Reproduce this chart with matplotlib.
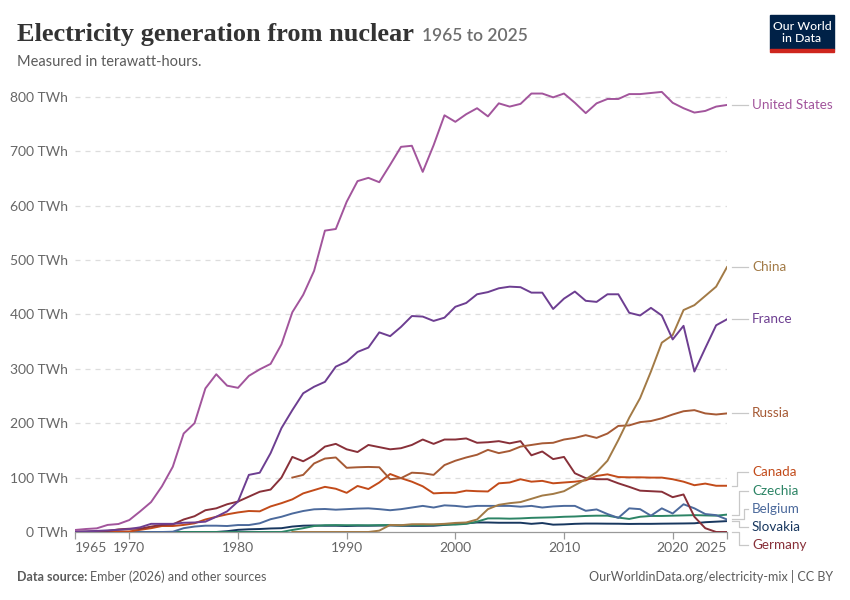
import numpy as np
import matplotlib
matplotlib.use("Agg")
import matplotlib.pyplot as plt
from matplotlib.patches import Rectangle

nan = np.nan
years = list(range(1965, 2026))

united_states = [3.7, 5.5, 6.7, 13, 14.7, 22, 38, 55, 84, 120,
                 181, 200, 264, 290, 269, 265, 287, 299, 309, 345,
                 404, 436, 480, 554, 557, 607, 645, 651, 643, 675,
                 708, 710, 662, 711, 766, 754, 768, 779, 764, 788,
                 782, 787, 806, 806, 799, 806, 789, 770, 788, 796,
                 796, 805, 805, 807, 809, 789, 779, 771, 774, 782, 785]
france = [1.0, 1.3, 2.0, 3.0, 4.0, 5.5, 8.6, 15, 15, 15,
          17, 17.5, 19, 28, 38, 56, 105, 109, 145, 191,
          224, 255, 267, 276, 304, 313, 331, 339, 367, 360,
          377, 397, 396, 388, 394, 414, 421, 437, 441, 448,
          451, 450, 440, 440, 410, 429, 442, 425, 423, 437,
          437, 403, 398, 412, 398, 354, 379, 295, 338, 380, 391]
china = [nan] * 20 + [0, 0, 0, 0, 0, 0, 0, 0, 2.5, 13,
                      12.5, 14.3, 14.4, 14.1, 15, 16.7, 17.5, 23, 42, 50,
                      53, 55, 61, 67, 70, 75, 86, 97, 110, 131,
                      169, 210, 246, 295, 348, 362, 408, 417, 434, 451, 487]
russia = [nan] * 20 + [100, 105, 126, 135, 137, 118, 119, 119.6, 119, 97,
                       99, 109, 108, 105, 123, 131, 137, 142, 151, 145,
                       149, 157, 160, 163, 164, 170, 173, 178, 173, 181,
                       195, 196, 202, 204, 209, 216, 222, 224, 218, 216, 218]
canada = [0, 0.1, 0.5, 1.0, 1.0, 1, 4, 7, 11, 11,
          13, 16, 23, 28, 32.5, 36, 38.6, 38, 47, 53,
          60, 71, 77, 83, 79.5, 72, 84.6, 79, 91, 106.6,
          99, 92.5, 84, 71, 72, 72, 76, 75, 74.5, 89.5,
          91, 97, 92.5, 94, 89.5, 91, 92.5, 95, 103, 106,
          101, 100.5, 100.5, 100, 100, 97, 92.5, 86, 89, 85, 85]
germany = [0.3, 0.5, 1.2, 1.8, 4.8, 6, 6, 10, 13, 14,
           23, 29, 40, 43.5, 51, 56, 65, 74, 78, 100,
           138, 130, 141, 157, 162, 152, 147, 160, 156, 152,
           154, 160, 170, 162, 170, 170, 172, 164, 165, 167,
           163, 167, 141, 148, 134, 138, 108, 99, 97, 97,
           89.5, 83, 76, 75, 74, 64, 69, 28, 7, 0, 0]
belgium = [0] * 9 + [0.5,
           7, 10, 11.6, 11.6, 11, 12.8, 12.8, 16, 23.5, 28,
           34, 38.6, 41.7, 42.3, 41, 42, 43, 43.5, 42, 40,
           42, 45, 48, 45, 49, 48, 46, 48, 48, 48,
           48, 46.5, 48, 45, 47, 48, 48, 39, 41.5, 33,
           26, 43.5, 42, 30, 43.5, 34, 51, 43.5, 33, 31, 23]
czechia = [0] * 20 + [3.7, 7, 11, 12.5, 12.7, 12.5, 12.5, 12.3, 12.6, 12.8,
                      12.2, 12.8, 12.5, 13.2, 13.4, 13.6, 15, 19, 25, 25,
                      24.5, 25, 26, 26.5, 27, 28, 28.5, 29.5, 30, 30,
                      26.5, 24, 28, 29.5, 29.5, 30, 30.5, 31, 30.5, 30, 32]
slovakia = [0] * 14 + [1.5, 4, 5, 5.5, 6.5, 7,
                       10, 11.6, 12, 11.5, 11.5, 11, 11.5, 11.5, 11.8, 12,
                       11.5, 11.3, 11.3, 11.5, 13, 15, 16, 17.5, 17.5, 17,
                       17, 17, 15, 16.5, 13.5, 14, 15, 15.5, 15.5, 15.3,
                       15.2, 14.8, 15, 15, 15.3, 15.5, 15.7, 16, 18, 19, 20]

series = [
    ("Slovakia", slovakia, "#18375F"),
    ("Czechia", czechia, "#2C8465"),
    ("Belgium", belgium, "#4C6A9C"),
    ("Canada", canada, "#C24B1A"),
    ("Germany", germany, "#883039"),
    ("Russia", russia, "#A65A35"),
    ("China", china, "#A27A46"),
    ("France", france, "#6D3E91"),
    ("United States", united_states, "#A2559C"),
]
for name, vals, _ in series:
    assert len(vals) == len(years), (name, len(vals))

# label layout: (label y in data units, x of vertical connector segment)
label_layout = {
    "United States": (785, None),
    "China": (487, None),
    "France": (391, None),
    "Russia": (219, None),
    "Canada": (110, 2025.9),
    "Czechia": (75, 2026.15),
    "Belgium": (42, 2026.55),
    "Slovakia": (9, 2026.15),
    "Germany": (-24, 2026.15),
}

plt.rcParams['font.family'] = ['Lato', 'DejaVu Sans']
fig = plt.figure(figsize=(8.5, 6), dpi=100)
W, H = 850, 600
ax = fig.add_axes([75 / W, 68 / H, (727 - 75) / W, (532 - 90) / H])
ymax = (532 - 90) / 0.544
ax.set_xlim(1965, 2025)
ax.set_ylim(0, ymax)

for name, vals, col in series:
    ax.plot(years, vals, color=col, lw=1.4, solid_joinstyle='round', zorder=3)

yt = list(range(0, 900, 100))
ax.set_yticks(yt)
ax.set_yticklabels([f"{v} TWh" for v in yt])
for v in yt[1:]:
    ax.axhline(v, color="#dddddd", lw=0.9, ls=(0, (4, 4)), zorder=1)
xt = [1965, 1970, 1980, 1990, 2000, 2010, 2020, 2025]
ax.set_xticks(xt)
ax.set_xticklabels([str(x) for x in xt])
for s in ["top", "right", "left"]:
    ax.spines[s].set_visible(False)
ax.spines["bottom"].set_color("#999999")
ax.spines["bottom"].set_linewidth(0.9)
ax.tick_params(axis="y", length=0, pad=5, labelsize=10, labelcolor="#666666")
ax.tick_params(axis="x", length=5, width=0.9, color="#999999", pad=2,
               labelsize=10, labelcolor="#666666")
xlabels = ax.get_xticklabels()
xlabels[0].set_ha("left")
xlabels[-1].set_ha("right")

# labels with connectors
x_end = 2025.5
x_lab_line = 2026.95
x_text = 2027.3
for name, vals, col in series:
    ly, xb = label_layout[name]
    v = vals[-1]
    if xb is None:
        ax.plot([x_end, x_lab_line], [ly, ly], color="#c8c8c8", lw=0.9,
                clip_on=False, zorder=2)
    else:
        ax.plot([x_end, xb, xb, x_lab_line], [v, v, ly, ly], color="#c8c8c8",
                lw=0.9, clip_on=False, zorder=2)
    ax.text(x_text, ly, name, color=col, fontsize=9.7, va="center", ha="left",
            clip_on=False)

# title
title = fig.text(17 / W, 1 - 41 / H, "Electricity generation from nuclear",
                 fontsize=19, fontweight="bold", family="Liberation Serif",
                 color="#333333", va="baseline")
fig.canvas.draw()
rend = fig.canvas.get_renderer()
bb = title.get_window_extent(rend)
fig.text((bb.x1 + 8) / W, 1 - 41 / H, "1965 to 2025", fontsize=12.5,
         color="#6e6e6e", va="baseline", fontweight="semibold")
fig.text(17 / W, 1 - 66 / H, "Measured in terawatt-hours.", fontsize=10.5,
         color="#5b5b5b", va="baseline")

# footer
ds = fig.text(17 / W, 1 - 581 / H, "Data source:", fontsize=9,
              fontweight="bold", color="#5b5b5b", va="baseline")
fig.canvas.draw()
bb2 = ds.get_window_extent(fig.canvas.get_renderer())
fig.text((bb2.x1 + 3) / W, 1 - 581 / H, "Ember (2026) and other sources",
         fontsize=9, color="#5b5b5b", va="baseline")
fig.text(833 / W, 1 - 581 / H, "OurWorldinData.org/electricity-mix | CC BY",
         fontsize=9, color="#5b5b5b", va="baseline", ha="right")

# logo
fig.patches.append(Rectangle((770 / W, 1 - 49 / H), 64 / W, 34 / H,
                             transform=fig.transFigure, color="#002147"))
fig.patches.append(Rectangle((770 / W, 1 - 52 / H), 64 / W, 3 / H,
                             transform=fig.transFigure, color="#CE261E"))
fig.text(802 / W, 1 - 26 / H, "Our World", fontsize=8.8, color="white",
         ha="center", va="center", fontweight="medium")
fig.text(802 / W, 1 - 39 / H, "in Data", fontsize=8.8, color="white",
         ha="center", va="center", fontweight="medium")

fig.savefig("out.png", dpi=100)
